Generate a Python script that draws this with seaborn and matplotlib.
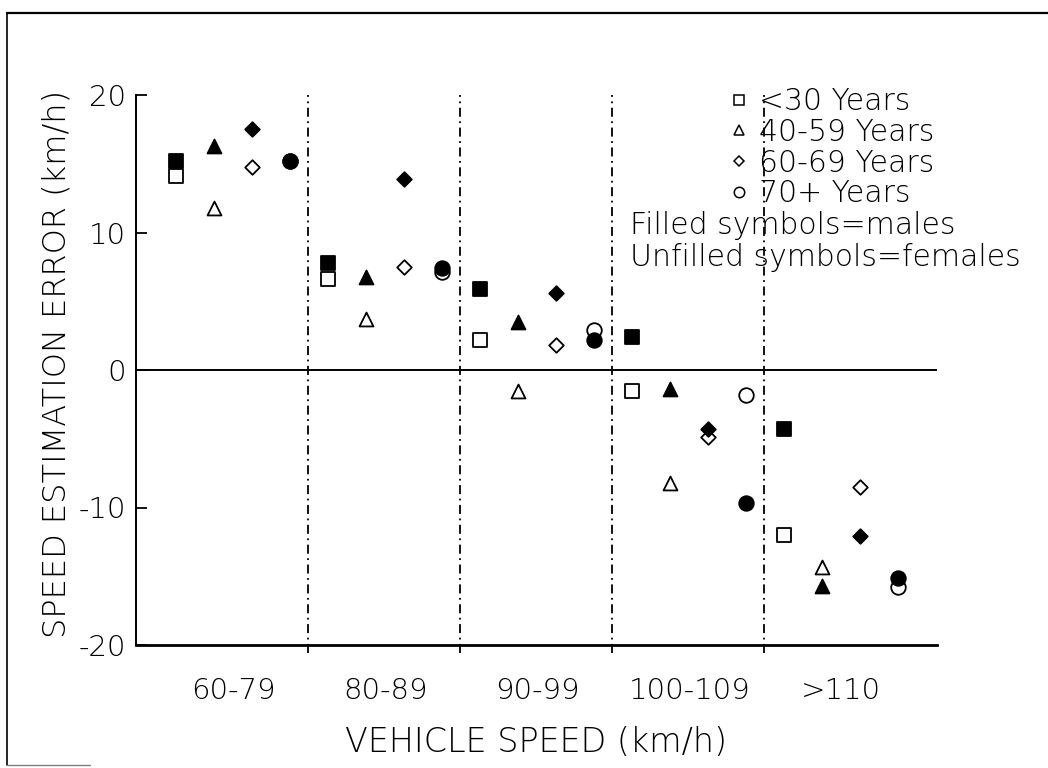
import numpy as np
import pandas as pd
import matplotlib
matplotlib.use("Agg")
import matplotlib.pyplot as plt
import seaborn as sns
from matplotlib.lines import Line2D

# ---- data -------------------------------------------------------------
speed_bins = ["60-79", "80-89", "90-99", "100-109", ">110"]
age_groups = ["<30 Years", "40-59 Years", "60-69 Years", "70+ Years"]

# speed estimation error (km/h) by vehicle speed bin
male_under30 = [15.2, 7.8, 5.9, 2.4, -4.3]
male_40_59 = [16.3, 6.8, 3.5, -1.4, -15.7]
male_60_69 = [17.5, 13.9, 5.6, -4.3, -12.1]
male_70plus = [15.2, 7.4, 2.2, -9.7, -15.1]

female_under30 = [14.1, 6.6, 2.2, -1.5, -12.0]
female_40_59 = [11.8, 3.7, -1.5, -8.2, -14.3]
female_60_69 = [14.8, 7.5, 1.8, -4.9, -8.5]
female_70plus = [15.2, 7.1, 2.9, -1.8, -15.8]

y_ticks = [-20, -10, 0, 10, 20]

# ---- tidy frame ---------------------------------------------------------
series = {
    ("male", age_groups[0]): male_under30,
    ("male", age_groups[1]): male_40_59,
    ("male", age_groups[2]): male_60_69,
    ("male", age_groups[3]): male_70plus,
    ("female", age_groups[0]): female_under30,
    ("female", age_groups[1]): female_40_59,
    ("female", age_groups[2]): female_60_69,
    ("female", age_groups[3]): female_70plus,
}
rows = []
for (sex, age), vals in series.items():
    for i, v in enumerate(vals):
        rows.append({"speed": speed_bins[i], "speed_idx": i, "age": age,
                     "sex": sex, "error": v})
df = pd.DataFrame(rows)

# dodge the four age groups inside each speed bin
offsets = dict(zip(age_groups, [-0.375, -0.125, 0.125, 0.375]))
df["xpos"] = df["speed_idx"] + df["age"].map(offsets)

markers = dict(zip(age_groups, ["s", "^", "D", "o"]))
sizes = dict(zip(age_groups, [110, 100, 55, 110]))

# ---- figure ------------------------------------------------------------
sns.set_theme(style="white")
plt.rcParams["font.family"] = ["DejaVu Sans"]
plt.rcParams["font.weight"] = "ultralight"
plt.rcParams["axes.labelweight"] = "ultralight"
plt.rcParams["axes.unicode_minus"] = False
plt.rcParams["text.color"] = "black"
TICK_FS = 21
LEG_FS = 21.5
XLAB_FS = 24
YLAB_FS = 23

fig = plt.figure(figsize=(10.48, 7.68), dpi=100)
ax = fig.add_axes([136 / 1048, 1 - 645 / 768, (937 - 136) / 1048, 550 / 768])

# females (unfilled) underneath, males (filled) on top
for sex, face, z in [("female", "white", 3), ("male", "black", 4)]:
    for age in age_groups:
        sub = df[(df["sex"] == sex) & (df["age"] == age)]
        sns.scatterplot(data=sub, x="xpos", y="error", marker=markers[age],
                        s=sizes[age], color=face, edgecolor="black",
                        linewidth=1.3, legend=False, ax=ax, zorder=z)

# dash-dot separators between speed bins
for i in range(len(speed_bins) - 1):
    ax.plot([i + 0.49, i + 0.49], [-20.6, 20], color="black", lw=1.3,
            linestyle=(0, (5, 2.5, 1, 2.5)), clip_on=False, zorder=2)

ax.axhline(0, color="black", lw=1.4, zorder=2)

ax.set_xlim(-0.64, 4.63)
ax.set_ylim(-20, 20)
ax.set_xticks(range(len(speed_bins)))
ax.set_xticklabels(speed_bins, fontsize=TICK_FS)
ax.set_yticks(y_ticks)
ax.set_yticklabels([str(t) for t in y_ticks], fontsize=TICK_FS)
ax.tick_params(axis="x", length=0, pad=23, colors="black")
ax.tick_params(axis="y", direction="in", length=8, width=1.3, pad=7,
               colors="black", left=True)

for side in ["top", "right"]:
    ax.spines[side].set_visible(False)
ax.spines["left"].set_color("black")
ax.spines["left"].set_linewidth(1.4)
ax.spines["bottom"].set_color("black")
ax.spines["bottom"].set_linewidth(2.0)

ax.set_xlabel("VEHICLE SPEED (km/h)", fontsize=XLAB_FS, labelpad=15,
              color="black")
ax.set_ylabel("SPEED ESTIMATION ERROR (km/h)", fontsize=YLAB_FS, color="black")
ax.yaxis.set_label_coords(-0.08, 0.511)

# legend for the age groups
handles = [Line2D([], [], linestyle="none", marker=markers[a],
                  markersize={"s": 7.5, "^": 7, "D": 5.5, "o": 7.5}[markers[a]],
                  markerfacecolor="white", markeredgecolor="black",
                  markeredgewidth=1.1) for a in age_groups]
ax.legend(handles, age_groups, loc="upper left",
          bbox_to_anchor=((728 - 136) / 801, (645 - 87) / 550),
          frameon=False, fontsize=LEG_FS, handlelength=0.75, handletextpad=0.3,
          borderpad=0, borderaxespad=0, labelspacing=0.06, labelcolor="black")

fig.text(630 / 1048, 1 - 226 / 768, "Filled symbols=males", fontsize=LEG_FS,
         va="center", ha="left", color="black")
fig.text(630 / 1048, 1 - 257 / 768, "Unfilled symbols=females", fontsize=LEG_FS,
         va="center", ha="left", color="black")

# page frame
fig.add_artist(Line2D([7 / 1048, 1.0], [1 - 13 / 768, 1 - 13 / 768],
                      transform=fig.transFigure, color="black", lw=1.6))
fig.add_artist(Line2D([7 / 1048, 7 / 1048], [1 - 13 / 768, 1 - 765 / 768],
                      transform=fig.transFigure, color="black", lw=1.2))
fig.add_artist(Line2D([7 / 1048, 90 / 1048], [1 - 765 / 768, 1 - 765 / 768],
                      transform=fig.transFigure, color="0.5", lw=1.0))

fig.savefig("out.png", dpi=100, facecolor="white")
